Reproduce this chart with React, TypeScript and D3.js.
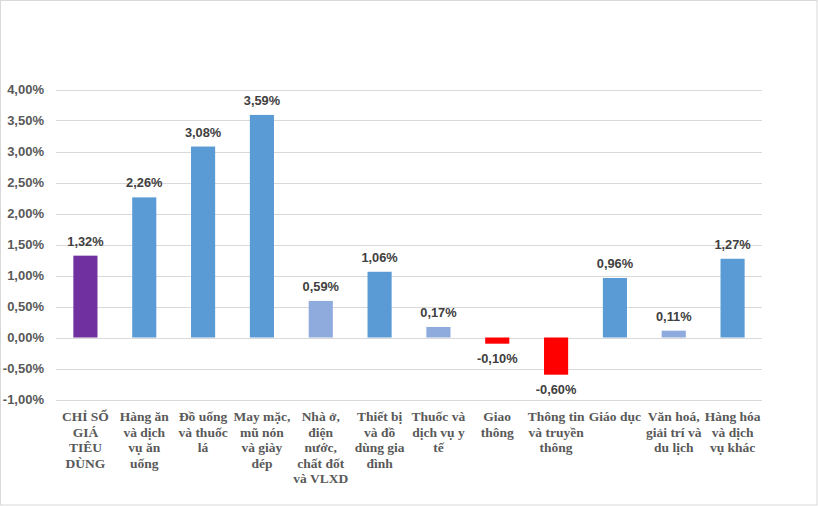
import * as d3 from "d3";

const categories: string[][] = [
  ["CHỈ SỐ", "GIÁ", "TIÊU", "DÙNG"],
  ["Hàng ăn", "và dịch", "vụ ăn", "uống"],
  ["Đồ uống", "và thuốc", "lá"],
  ["May mặc,", "mũ nón", "và giày", "dép"],
  ["Nhà ở,", "điện", "nước,", "chất đốt", "và VLXD"],
  ["Thiết bị", "và đồ", "dùng gia", "đình"],
  ["Thuốc và", "dịch vụ y", "tế"],
  ["Giao", "thông"],
  ["Thông tin", "và truyền", "thông"],
  ["Giáo dục"],
  ["Văn hoá,", "giải trí và", "du lịch"],
  ["Hàng hóa", "và dịch", "vụ khác"],
];
const values = [1.32, 2.26, 3.08, 3.59, 0.59, 1.06, 0.17, -0.1, -0.6, 0.96, 0.11, 1.27];
const barColors = [
  "#7030A0", "#5B9BD5", "#5B9BD5", "#5B9BD5", "#8FAADC", "#5B9BD5",
  "#8FAADC", "#FF0000", "#FF0000", "#5B9BD5", "#8FAADC", "#5B9BD5",
];
const yTicks = [-1, -0.5, 0, 0.5, 1, 1.5, 2, 2.5, 3, 3.5, 4];

const W = 818;
const H = 506;
const plot = { left: 56, right: 762, top: 89.5, bottom: 399.5 };

const fmt = (v: number) => v.toFixed(2).replace(".", ",") + "%";

export default function App() {
  const x = d3
    .scaleBand<number>()
    .domain(d3.range(values.length))
    .range([plot.left, plot.right])
    .paddingInner(0.59)
    .paddingOuter(0.295);
  const y = d3.scaleLinear().domain([-1, 4]).range([plot.bottom, plot.top]);
  const step = (plot.right - plot.left) / values.length;

  return (
    <svg
      width={W}
      height={H}
      style={{ position: "absolute", left: 0, top: 0, background: "#fff" }}
    >
      <rect x={0.5} y={0.5} width={W - 1.5} height={H - 1.5} fill="#fff" stroke="#D9D9D9" />
      {/* gridlines */}
      {yTicks.map((t) => (
        <line
          key={t}
          x1={plot.left}
          x2={plot.right}
          y1={Math.round(y(t)) + 0.5}
          y2={Math.round(y(t)) + 0.5}
          stroke="#D9D9D9"
          strokeWidth={1}
        />
      ))}
      {/* y tick labels */}
      {yTicks.map((t) => (
        <text
          key={"l" + t}
          x={44}
          y={y(t) + 4.5}
          textAnchor="end"
          fontFamily="'Liberation Sans', Arial, sans-serif"
          fontWeight="bold"
          fontSize={13}
          fill="#595959"
        >
          {fmt(t)}
        </text>
      ))}
      {/* bars */}
      {values.map((v, i) => (
        <rect
          key={"b" + i}
          x={x(i)}
          y={y(Math.max(0, v))}
          width={x.bandwidth()}
          height={Math.abs(y(v) - y(0))}
          fill={barColors[i]}
        />
      ))}
      {/* data labels */}
      {values.map((v, i) => (
        <text
          key={"d" + i}
          x={(x(i) ?? 0) + x.bandwidth() / 2}
          y={v >= 0 ? y(v) - 10 : y(v) + 19}
          textAnchor="middle"
          fontFamily="'Liberation Sans', Arial, sans-serif"
          fontWeight="bold"
          fontSize={12.8}
          fill="#404040"
        >
          {fmt(v)}
        </text>
      ))}
      {/* category labels */}
      {categories.map((lines, i) => (
        <text
          key={"c" + i}
          x={plot.left + step * (i + 0.5)}
          y={421}
          textAnchor="middle"
          fontFamily="'Liberation Serif', 'Times New Roman', serif"
          fontWeight="bold"
          fontSize={13.5}
          fill="#595959"
        >
          {lines.map((ln, j) => (
            <tspan key={j} x={plot.left + step * (i + 0.5)} y={421 + j * 15.5}>
              {ln}
            </tspan>
          ))}
        </text>
      ))}
    </svg>
  );
}
